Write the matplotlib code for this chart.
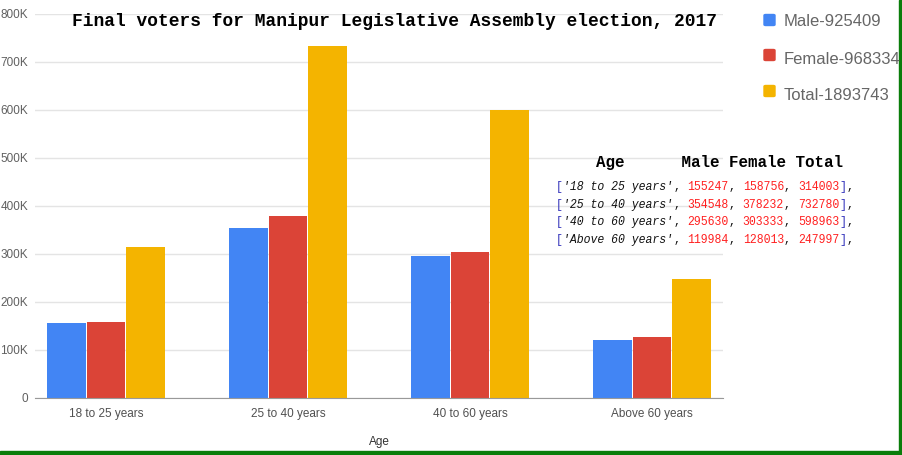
import numpy as np
import matplotlib
matplotlib.use("Agg")
import matplotlib.pyplot as plt
from matplotlib.patches import FancyBboxPatch, Rectangle

categories = ["18 to 25 years", "25 to 40 years", "40 to 60 years", "Above 60 years"]
male = [155247, 354548, 295630, 119984]
female = [158756, 378232, 303333, 128013]
total = [314003, 732780, 598963, 247997]
series_names = ["Male", "Female", "Total"]
colors = ["#4285F4", "#DB4437", "#F4B400"]
yticks = [0, 100000, 200000, 300000, 400000, 500000, 600000, 700000, 800000]
ytick_labels = ["0", "100K", "200K", "300K", "400K", "500K", "600K", "700K", "800K"]
title = "Final voters for Manipur Legislative Assembly election, 2017"

W, H = 902, 455
fig = plt.figure(figsize=(W / 100, H / 100), dpi=100)

def fx(x):
    return x / W

def fy(y):
    return 1 - y / H

ax = fig.add_axes([fx(35), fy(398), fx(723) - fx(35), fy(14) - fy(398)])
x = np.arange(len(categories))
bw = 0.209
off = 0.217
for i, (vals, c) in enumerate(zip([male, female, total], colors)):
    ax.bar(x + (i - 1) * off, vals, width=bw, color=c, zorder=3)

ax.set_xlim(-0.39, 3.39)
ax.set_ylim(0, 800000)
ax.set_yticks(yticks)
ax.set_yticklabels(ytick_labels, fontsize=8.5, color="#606060", family="Liberation Sans")
ax.set_xticks(x)
ax.set_xticklabels(categories, fontsize=8.5, color="#505050", family="Liberation Sans")
ax.tick_params(axis="both", length=0)
ax.tick_params(axis="y", pad=5)
ax.tick_params(axis="x", pad=7)
ax.grid(axis="y", color="#e4e4e4", linewidth=1, zorder=0)
for s in ["top", "right", "left"]:
    ax.spines[s].set_visible(False)
ax.spines["bottom"].set_color("#999999")
ax.spines["bottom"].set_zorder(4)
ax.set_xlabel("Age", fontsize=8.5, color="#333333", family="Liberation Sans", labelpad=12)

# Title
fig.text(fx(395), fy(22), title, ha="center", va="center", fontsize=12.9,
         family="Liberation Mono", weight="bold", color="black")

# Legend
sums = [sum(male), sum(female), sum(total)]
leg_sq_y = [20, 55, 91]
leg_tx_y = [22, 60, 95]
for name, s, c, sy, ty in zip(series_names, sums, colors, leg_sq_y, leg_tx_y):
    fig.patches.append(FancyBboxPatch((fx(764), fy(sy + 5.5)), fx(11), (11) / H,
                                      boxstyle="round,pad=0,rounding_size=0.002",
                                      transform=fig.transFigure, color=c, figure=fig))
    fig.text(fx(784), fy(ty), f"{name}-{s}", ha="left", va="center", fontsize=12,
             family="Liberation Sans", color="#666666")

# Table header
fig.text(fx(596), fy(162), "Age      Male Female Total", ha="left", va="center",
         fontsize=11.4, family="Liberation Mono", weight="bold", color="black")

# Table rows
fs = 8.3
cw = 0.6 * fs * 100 / 72
row_y = [187, 205, 222, 240]
for cat, m, f, t, ry in zip(categories, male, female, total, row_y):
    segs = [("[", "#3333bb", "normal"), (f"'{cat}'", "#111111", "italic"), (", ", "#111111", "normal"),
            (str(m), "#ff2020", "normal"), (", ", "#111111", "normal"),
            (str(f), "#ff2020", "normal"), (", ", "#111111", "normal"),
            (str(t), "#ff2020", "normal"), ("]", "#3333bb", "normal"), (",", "#111111", "normal")]
    pos = 0
    for txt, c, st in segs:
        fig.text(fx(556 + pos * cw), fy(ry), txt, ha="left", va="center", fontsize=fs,
                 family="Liberation Mono", style=st, color=c)
        pos += len(txt)

# Green border
fig.patches.append(Rectangle((fx(899), 0), fx(3), 1, transform=fig.transFigure,
                             color="#0a7d0a", figure=fig))
fig.patches.append(Rectangle((0, 0), 1, 4 / H, transform=fig.transFigure,
                             color="#0a7d0a", figure=fig))

fig.savefig("out.png", dpi=100)
